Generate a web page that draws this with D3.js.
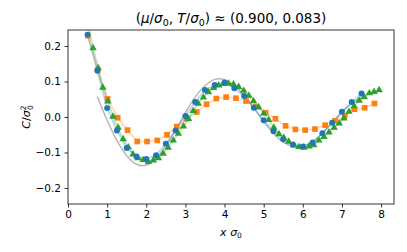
<!DOCTYPE html>
<html>
<head>
<meta charset="utf-8">
<script src="https://cdn.jsdelivr.net/npm/d3@7"></script>
<style>
  body { margin: 0; background: #fff; }
  svg text { font-family: "DejaVu Sans", sans-serif; }
</style>
</head>
<body>
<svg id="chart" width="407" height="252"></svg>
<script>
// data
const xTicks = [0, 1, 2, 3, 4, 5, 6, 7, 8];
const yTicks = [-0.2, -0.1, 0.0, 0.1, 0.2];

// theory curve (gray)
const grayX = [0.75, 1.0, 1.25, 1.5, 1.75, 2.0, 2.25, 2.5, 2.75, 3.0, 3.25, 3.5, 3.75, 4.0, 4.25, 4.5, 4.75, 5.0, 5.25, 5.5, 5.75, 6.0, 6.25, 6.5, 6.75, 7.0, 7.25, 7.5];
const grayY = [0.057, -0.009, -0.066, -0.109, -0.133, -0.136, -0.117, -0.082, -0.036, 0.012, 0.056, 0.088, 0.106, 0.105, 0.089, 0.061, 0.025, -0.013, -0.046, -0.071, -0.083, -0.082, -0.069, -0.045, -0.017, 0.013, 0.038, 0.057];

// blue circles
const blueX = [0.5, 0.75, 1.0, 1.25, 1.5, 1.75, 2.0, 2.25, 2.5, 2.75, 3.0, 3.25, 3.5, 3.75, 4.0, 4.25, 4.5, 4.75, 5.0, 5.25, 5.5, 5.75, 6.0, 6.25, 6.5, 6.75, 7.0, 7.25, 7.5];
const blueY = [0.232, 0.130, 0.025, -0.038, -0.087, -0.111, -0.118, -0.108, -0.075, -0.038, 0.003, 0.042, 0.076, 0.090, 0.097, 0.081, 0.059, 0.026, -0.009, -0.040, -0.063, -0.078, -0.083, -0.072, -0.046, -0.016, 0.015, 0.042, 0.066];

// orange squares
const orangeX = [0.51, 0.76, 1.01, 1.27, 1.52, 1.77, 2.02, 2.28, 2.53, 2.78, 3.03, 3.29, 3.54, 3.79, 4.04, 4.29, 4.55, 4.80, 5.05, 5.30, 5.56, 5.81, 6.06, 6.31, 6.57, 6.82, 7.07, 7.32, 7.58, 7.83];
const orangeY = [0.229, 0.132, 0.051, -0.002, -0.037, -0.069, -0.069, -0.066, -0.050, -0.027, -0.005, 0.014, 0.036, 0.052, 0.056, 0.053, 0.045, 0.029, 0.012, -0.005, -0.025, -0.035, -0.037, -0.034, -0.023, -0.011, 0.003, 0.022, 0.026, 0.038];

// green triangles
const greenX = [0.51, 0.64, 0.77, 0.89, 1.02, 1.15, 1.28, 1.41, 1.54, 1.66, 1.79, 1.92, 2.05, 2.18, 2.31, 2.43, 2.56, 2.69, 2.82, 2.95, 3.08, 3.20, 3.33, 3.46, 3.59, 3.72, 3.85, 3.97, 4.10, 4.23, 4.36, 4.49, 4.62, 4.74, 4.87, 5.00, 5.13, 5.26, 5.39, 5.51, 5.64, 5.77, 5.90, 6.03, 6.16, 6.28, 6.41, 6.54, 6.67, 6.80, 6.93, 7.05, 7.18, 7.31, 7.44, 7.57, 7.70, 7.82, 7.95];
const greenY = [0.258, 0.194, 0.138, 0.083, 0.044, 0.001, -0.030, -0.062, -0.085, -0.105, -0.116, -0.121, -0.126, -0.122, -0.116, -0.103, -0.086, -0.066, -0.047, -0.026, -0.005, 0.017, 0.038, 0.055, 0.070, 0.082, 0.089, 0.093, 0.094, 0.092, 0.085, 0.074, 0.060, 0.045, 0.028, 0.010, -0.008, -0.030, -0.048, -0.058, -0.069, -0.079, -0.084, -0.086, -0.083, -0.079, -0.066, -0.056, -0.043, -0.030, -0.018, -0.004, 0.015, 0.031, 0.046, 0.056, 0.067, 0.071, 0.076];

const margin = {left: 68, right: 13, top: 30, bottom: 48};
const W = 407, H = 252;
const svg = d3.select("#chart");

const x = d3.scaleLinear().domain([0, 8.33]).range([margin.left, W - margin.right]);
const y = d3.scaleLinear().domain([-0.245, 0.245]).range([H - margin.bottom, margin.top]);

svg.append("clipPath").attr("id", "clip")
  .append("rect")
  .attr("x", margin.left).attr("y", margin.top)
  .attr("width", W - margin.left - margin.right)
  .attr("height", H - margin.top - margin.bottom);

const plot = svg.append("g").attr("clip-path", "url(#clip)");
const zip = (xs, ys) => xs.map((v, i) => [v, ys[i]]);
const line = d3.line().x(d => x(d[0])).y(d => y(d[1]));
const smooth = d3.line().x(d => x(d[0])).y(d => y(d[1])).curve(d3.curveCatmullRom);

// theory line
plot.append("path").datum(zip(grayX, grayY))
  .attr("d", smooth).attr("fill", "none")
  .attr("stroke", "#999").attr("stroke-opacity", 0.7).attr("stroke-width", 1.5);

const series = [
  {xs: orangeX, ys: orangeY, color: "#ff7f0e", shape: d3.symbolSquare, size: 32},
  {xs: greenX, ys: greenY, color: "#2ca02c", shape: d3.symbolTriangle, size: 24},
  {xs: blueX, ys: blueY, color: "#1f77b4", shape: d3.symbolCircle, size: 28}
];

// faint connecting lines
series.forEach(s => {
  plot.append("path").datum(zip(s.xs, s.ys))
    .attr("d", line).attr("fill", "none")
    .attr("stroke", s.color).attr("stroke-opacity", 0.3).attr("stroke-width", 1.8);
});

// markers
series.forEach(s => {
  plot.append("g").selectAll("path")
    .data(zip(s.xs, s.ys)).enter().append("path")
    .attr("transform", d => `translate(${x(d[0])},${y(d[1])})`)
    .attr("d", d3.symbol().type(s.shape).size(s.size))
    .attr("fill", s.color);
});

// axes
const fmt = d3.format(".1f");
const xAxis = svg.append("g").attr("transform", `translate(0,${H - margin.bottom})`)
  .call(d3.axisBottom(x).tickValues(xTicks).tickSize(3.5).tickPadding(3.5).tickFormat(d3.format("d")));
const yAxis = svg.append("g").attr("transform", `translate(${margin.left},0)`)
  .call(d3.axisLeft(y).tickValues(yTicks).tickSize(3.5).tickPadding(3.5).tickFormat(fmt));
[xAxis, yAxis].forEach(a => {
  a.selectAll("text").attr("font-size", 10.5).attr("fill", "#000").attr("font-family", "DejaVu Sans");
  a.selectAll("line").attr("stroke", "#000").attr("stroke-width", 0.8);
  a.select(".domain").remove();
});

// frame
svg.append("rect")
  .attr("x", margin.left).attr("y", margin.top)
  .attr("width", W - margin.left - margin.right)
  .attr("height", H - margin.top - margin.bottom)
  .attr("fill", "none").attr("stroke", "#000").attr("stroke-width", 0.8);

// title
const title = svg.append("text")
  .attr("x", (margin.left + W - margin.right) / 2).attr("y", 23)
  .attr("text-anchor", "middle").attr("font-size", 13.5);
title.append("tspan").text("(");
title.append("tspan").attr("font-style", "italic").text("μ");
title.append("tspan").text("/");
title.append("tspan").attr("font-style", "italic").text("σ");
title.append("tspan").attr("font-size", 9.5).attr("dy", 2.5).text("0");
title.append("tspan").attr("dy", -2.5).text(", ");
title.append("tspan").attr("font-style", "italic").text("T");
title.append("tspan").text("/");
title.append("tspan").attr("font-style", "italic").text("σ");
title.append("tspan").attr("font-size", 9.5).attr("dy", 2.5).text("0");
title.append("tspan").attr("dy", -2.5).text(") ≈ (0.900, 0.083)");

// x label
const xl = svg.append("text")
  .attr("x", (margin.left + W - margin.right) / 2).attr("y", 236)
  .attr("text-anchor", "middle").attr("font-size", 11);
xl.append("tspan").attr("font-style", "italic").text("x");
xl.append("tspan").text(" ");
xl.append("tspan").attr("font-style", "italic").text("σ");
xl.append("tspan").attr("font-size", 7.5).attr("dy", 2).text("0");

// y label
const yl = svg.append("text")
  .attr("transform", `translate(30,${y(0)}) rotate(-90)`)
  .attr("text-anchor", "middle").attr("font-size", 11);
yl.append("tspan").attr("font-style", "italic").text("C");
yl.append("tspan").text("/");
yl.append("tspan").attr("font-style", "italic").text("σ");
yl.append("tspan").attr("font-size", 7.5).attr("dy", -4.5).text("2");
yl.append("tspan").attr("font-size", 7.5).attr("dx", -4.5).attr("dy", 7.5).text("0");
</script>
</body>
</html>
